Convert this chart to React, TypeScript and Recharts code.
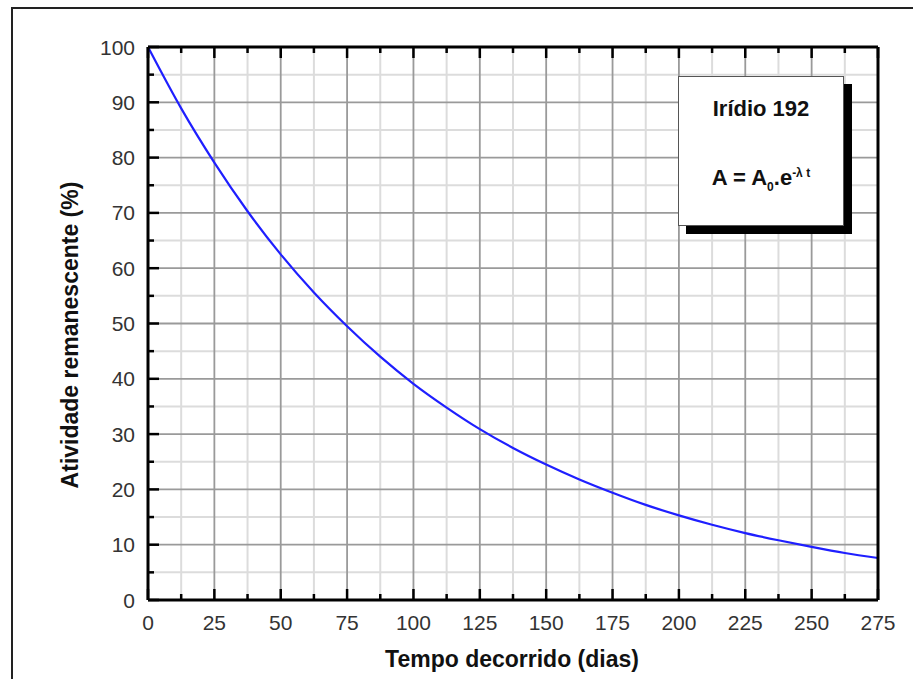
import React from 'react';
import { CartesianGrid, Line, LineChart, XAxis, YAxis } from 'recharts';

// values (days -> % activity left)
const days = [0, 12.5, 25, 37.5, 50, 62.5, 75, 87.5, 100, 112.5, 125, 137.5, 150, 162.5, 175, 187.5, 200, 212.5, 225, 237.5, 250, 262.5, 275];
const activity = [100, 88.9, 79.1, 70.3, 62.5, 55.6, 49.5, 44.0, 39.1, 34.8, 30.9, 27.5, 24.5, 21.8, 19.4, 17.2, 15.3, 13.6, 12.1, 10.8, 9.6, 8.5, 7.6];

const xMajorTicks = [0, 25, 50, 75, 100, 125, 150, 175, 200, 225, 250, 275];
const xMinorTicks = [12.5, 37.5, 62.5, 87.5, 112.5, 137.5, 162.5, 187.5, 212.5, 237.5, 262.5];
const yMajorTicks = [0, 10, 20, 30, 40, 50, 60, 70, 80, 90, 100];
const yMinorTicks = [5, 15, 25, 35, 45, 55, 65, 75, 85, 95];

const data = days.map((d, i) => ({ day: d, value: activity[i] }));
const xTicks = [...xMajorTicks, ...xMinorTicks].sort((a, b) => a - b);
const yTicks = [...yMajorTicks, ...yMinorTicks].sort((a, b) => a - b);

const FONT = '"Liberation Sans", Arial, Helvetica, sans-serif';
const MAJOR = 11;
const MINOR = 6;

function BottomTick(props: any) {
  const { x, y, payload } = props;
  const major = xMajorTicks.includes(payload.value);
  return (
    <g>
      <line x1={x} x2={x} y1={y} y2={y - (major ? MAJOR : MINOR)} stroke="#000" strokeWidth={2.5} />
      {major && (
        <text x={x} y={y + 30} textAnchor="middle" fill="#333" fontSize={21} fontFamily={FONT}>
          {payload.value}
        </text>
      )}
    </g>
  );
}

function TopTick(props: any) {
  const { x, y, payload } = props;
  const major = xMajorTicks.includes(payload.value);
  return <line x1={x} x2={x} y1={y} y2={y + (major ? MAJOR : MINOR)} stroke="#000" strokeWidth={2.5} />;
}

function LeftTick(props: any) {
  const { x, y, payload } = props;
  const major = yMajorTicks.includes(payload.value);
  return (
    <g>
      <line x1={x} x2={x + (major ? MAJOR : MINOR)} y1={y} y2={y} stroke="#000" strokeWidth={2.5} />
      {major && (
        <text x={x - 13} y={y} dy="0.36em" textAnchor="end" fill="#333" fontSize={21} fontFamily={FONT}>
          {payload.value}
        </text>
      )}
    </g>
  );
}

function RightTick(props: any) {
  const { x, y, payload } = props;
  const major = yMajorTicks.includes(payload.value);
  return <line x1={x} x2={x - (major ? MAJOR : MINOR)} y1={y} y2={y} stroke="#000" strokeWidth={2.5} />;
}

const axisLine = { stroke: '#000', strokeWidth: 3 };

export default function App() {
  return (
    <div style={{ position: 'absolute', left: 0, top: 0, width: 913, height: 679, background: '#fff', overflow: 'hidden', fontFamily: FONT }}>
      <div
        style={{
          position: 'absolute',
          left: 11,
          top: 7,
          width: 910,
          height: 680,
          borderTop: '2px solid #222',
          borderLeft: '2px solid #222',
        }}
      />
      <div style={{ position: 'absolute', left: 0, top: 0 }}>
        <LineChart width={913} height={679} data={data} margin={{ top: 27, right: 15, bottom: 39, left: 88 }}>
          <CartesianGrid verticalValues={xMinorTicks} horizontalValues={yMinorTicks} stroke="#dcdcdc" strokeWidth={2} />
          <CartesianGrid verticalValues={xMajorTicks} horizontalValues={yMajorTicks} stroke="#9a9a9a" strokeWidth={1.8} />
          <XAxis
            dataKey="day"
            type="number"
            domain={[0, 275]}
            ticks={xTicks}
            interval={0}
            height={40}
            tickSize={0}
            tickMargin={0}
            tick={<BottomTick />}
            axisLine={axisLine}
          />
          <XAxis
            xAxisId="top"
            orientation="top"
            dataKey="day"
            type="number"
            domain={[0, 275]}
            ticks={xTicks}
            interval={0}
            height={20}
            tickSize={0}
            tickMargin={0}
            tick={<TopTick />}
            axisLine={axisLine}
          />
          <YAxis
            type="number"
            domain={[0, 100]}
            ticks={yTicks}
            interval={0}
            width={60}
            tickSize={0}
            tickMargin={0}
            tick={<LeftTick />}
            axisLine={axisLine}
          />
          <YAxis
            yAxisId="right"
            orientation="right"
            type="number"
            domain={[0, 100]}
            ticks={yTicks}
            interval={0}
            width={20}
            tickSize={0}
            tickMargin={0}
            tick={<RightTick />}
            axisLine={axisLine}
          />
          <Line type="monotone" dataKey="value" stroke="#1f1fff" strokeWidth={2.2} dot={false} isAnimationActive={false} />
        </LineChart>
      </div>

      <div
        style={{
          position: 'absolute',
          left: 70,
          top: 335,
          transform: 'translate(-50%, -50%) rotate(-90deg)',
          whiteSpace: 'nowrap',
          fontSize: 23,
          fontWeight: 700,
          color: '#111',
          lineHeight: '23px',
        }}
      >
        Atividade remanescente (%)
      </div>
      <div
        style={{
          position: 'absolute',
          left: 512,
          top: 648,
          transform: 'translateX(-50%)',
          whiteSpace: 'nowrap',
          fontSize: 23,
          fontWeight: 700,
          color: '#111',
          lineHeight: '23px',
        }}
      >
        Tempo decorrido (dias)
      </div>

      <div
        style={{
          position: 'absolute',
          left: 678,
          top: 76,
          width: 166,
          height: 150,
          boxSizing: 'border-box',
          border: '1.5px solid #555',
          background: '#fff',
          boxShadow: '8px 8px 0 #000',
          fontWeight: 700,
          color: '#111',
        }}
      >
        <div style={{ position: 'absolute', left: 0, right: 0, top: 21, textAlign: 'center', fontSize: 22, lineHeight: '22px' }}>
          Irídio 192
        </div>
        <div style={{ position: 'absolute', left: 0, right: 0, top: 85, textAlign: 'center', fontSize: 22, lineHeight: '22px', whiteSpace: 'nowrap' }}>
          A = A<sub style={{ fontSize: 12 }}>0</sub>.e<sup style={{ fontSize: 12 }}>-λ t</sup>
        </div>
      </div>
    </div>
  );
}
